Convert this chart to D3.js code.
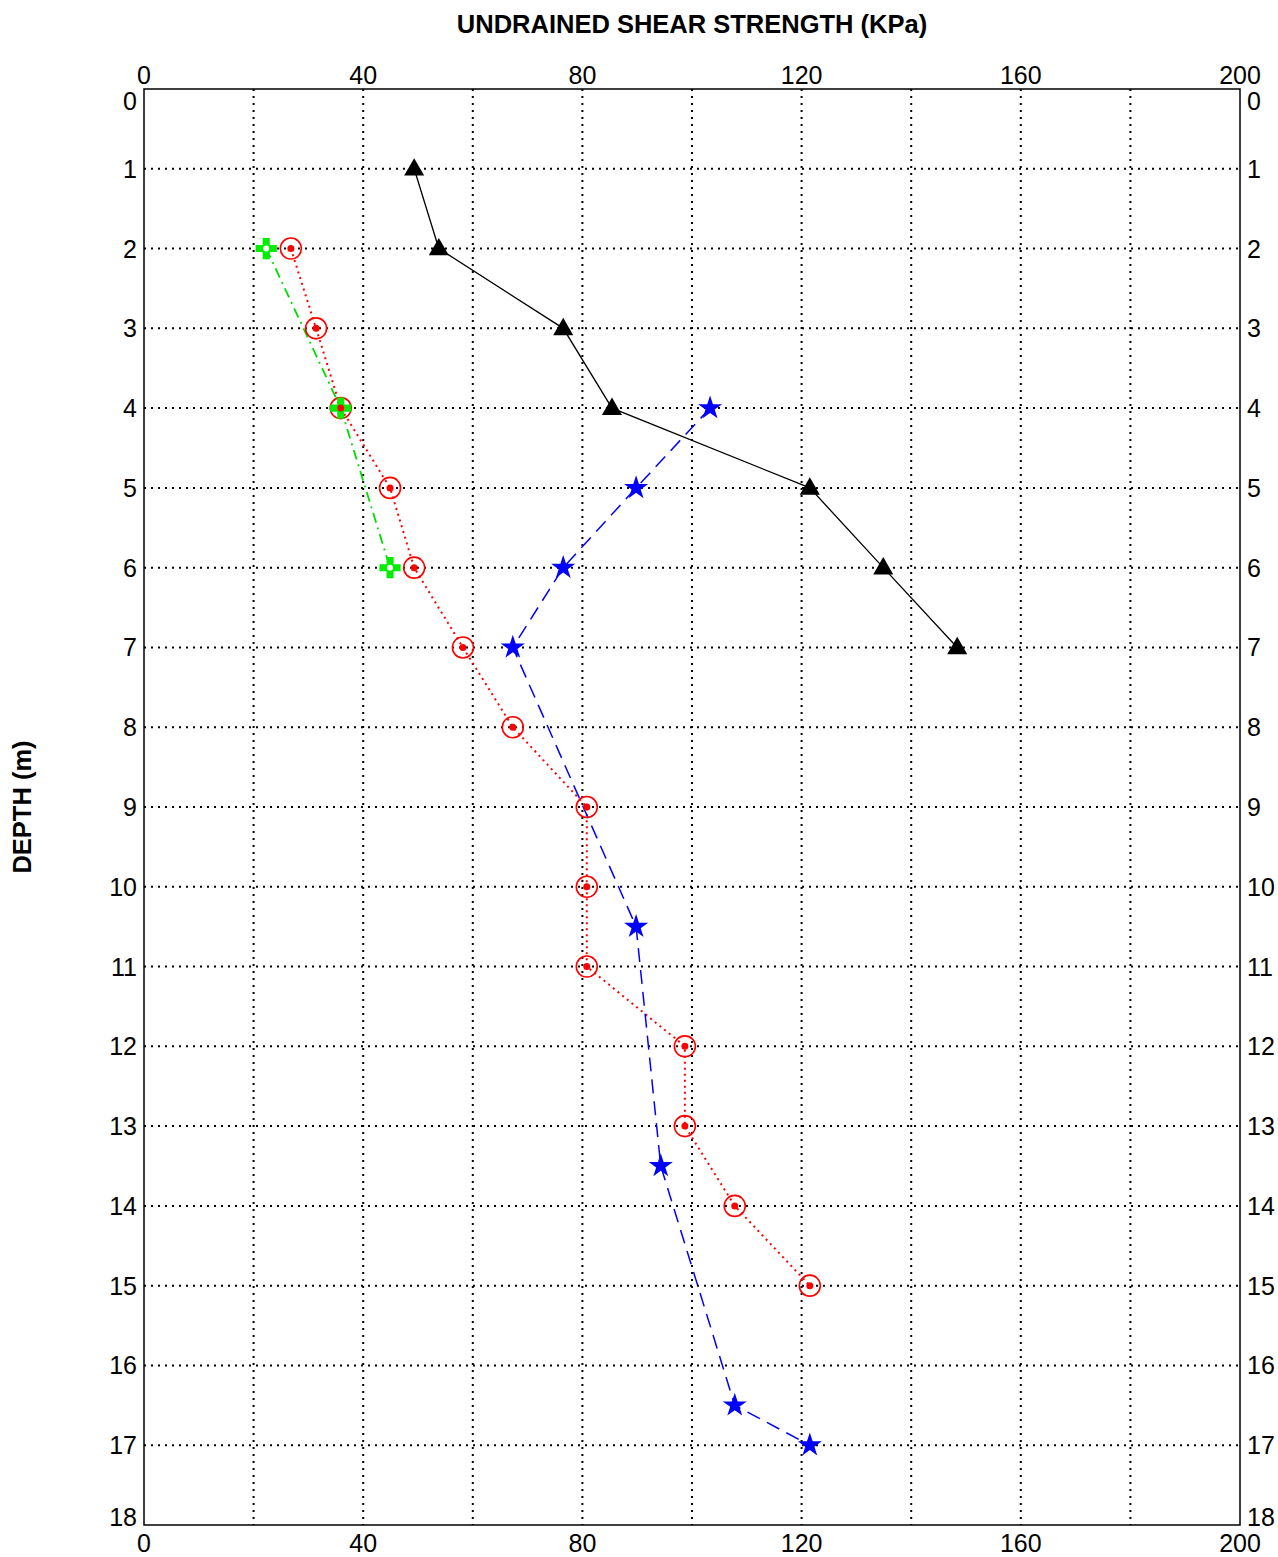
<!DOCTYPE html>
<html lang="en">
<head>
  <meta charset="UTF-8" />
  <title>Undrained Shear Strength vs Depth</title>
  <script src="https://d3js.org/d3.v7.min.js"></script>
  <style>
    body { margin: 0; background: #fff; font-family: Arial, "Liberation Sans", sans-serif; }
    .tick-label { font-size: 25px; fill: #000; }
    .axis-title { font-size: 25.5px; font-weight: bold; fill: #000; }
  </style>
</head>
<body>
  <div id="chart"></div>
  <script>
    // data (strength in kPa, depth in m)
    const triDepth = [1, 2, 3, 4, 5, 6, 7];
    const triStrength = [49.3, 53.8, 76.5, 85.4, 121.5, 134.9, 148.4];

    const circDepth = [2, 3, 4, 5, 6, 7, 8, 9, 10, 11, 12, 13, 14, 15];
    const circStrength = [26.8, 31.4, 35.9, 44.9, 49.3, 58.2, 67.3, 80.8, 80.8, 80.8, 98.7, 98.7, 107.8, 121.5];

    const crossDepth = [2, 4, 6];
    const crossStrength = [22.3, 35.9, 44.9];

    const starDepth = [4, 5, 6, 7, 10.5, 13.5, 16.5, 17];
    const starStrength = [103.3, 89.8, 76.5, 67.3, 89.8, 94.3, 107.8, 121.5];

    const xTicks = [0, 40, 80, 120, 160, 200];
    const xGrid = [20, 40, 60, 80, 100, 120, 140, 160, 180];
    const yTicks = d3.range(0, 19);

    const width = 1278, height = 1557;
    const margin = {top: 89, right: 38, bottom: 32, left: 144};

    const svg = d3.select("#chart").append("svg")
      .attr("width", width)
      .attr("height", height);

    const x = d3.scaleLinear().domain([0, 200]).range([margin.left, width - margin.right]);
    const y = d3.scaleLinear().domain([0, 18]).range([margin.top, height - margin.bottom]);

    // grid
    svg.append("g").selectAll("line").data(xGrid).enter().append("line")
      .attr("x1", d => x(d)).attr("x2", d => x(d))
      .attr("y1", y(0)).attr("y2", y(18))
      .attr("stroke", "#000").attr("stroke-width", 2)
      .attr("stroke-dasharray", "2,5");
    svg.append("g").selectAll("line").data(yTicks.slice(1, 18)).enter().append("line")
      .attr("x1", x(0)).attr("x2", x(200))
      .attr("y1", d => y(d)).attr("y2", d => y(d))
      .attr("stroke", "#000").attr("stroke-width", 2)
      .attr("stroke-dasharray", "2,5");

    // frame
    svg.append("rect")
      .attr("x", x(0)).attr("y", y(0))
      .attr("width", x(200) - x(0)).attr("height", y(18) - y(0))
      .attr("fill", "none").attr("stroke", "#000").attr("stroke-width", 1.5);

    // depth labels are kept inside the frame at the two ends
    const yLabelBase = d => d === 0 ? y(d) + 21 : d === 18 ? y(d) + 1 : y(d) + 9;

    // tick labels
    svg.append("g").selectAll("text").data(xTicks).enter().append("text")
      .attr("class", "tick-label").attr("text-anchor", "middle")
      .attr("x", d => x(d)).attr("y", y(0) - 5).text(d => d);
    svg.append("g").selectAll("text").data(xTicks).enter().append("text")
      .attr("class", "tick-label").attr("text-anchor", "middle")
      .attr("x", d => x(d)).attr("y", y(18) + 27).text(d => d);
    svg.append("g").selectAll("text").data(yTicks).enter().append("text")
      .attr("class", "tick-label").attr("text-anchor", "end")
      .attr("x", x(0) - 7).attr("y", yLabelBase).text(d => d);
    svg.append("g").selectAll("text").data(yTicks).enter().append("text")
      .attr("class", "tick-label").attr("text-anchor", "start")
      .attr("x", x(200) + 7).attr("y", yLabelBase).text(d => d);

    // titles
    svg.append("text").attr("class", "axis-title").attr("text-anchor", "middle")
      .attr("x", (x(0) + x(200)) / 2).attr("y", 33)
      .text("UNDRAINED SHEAR STRENGTH (KPa)");
    svg.append("text").attr("class", "axis-title").attr("text-anchor", "middle")
      .attr("transform", `translate(31,${(y(0) + y(18)) / 2}) rotate(-90)`)
      .text("DEPTH (m)");

    const line = d3.line().x(d => x(d[0])).y(d => y(d[1]));
    const zip = (s, dep) => s.map((v, i) => [v, dep[i]]);

    const tri = zip(triStrength, triDepth);
    const circ = zip(circStrength, circDepth);
    const cross = zip(crossStrength, crossDepth);
    const star = zip(starStrength, starDepth);

    // lines
    svg.append("path").datum(tri).attr("d", line)
      .attr("fill", "none").attr("stroke", "#000").attr("stroke-width", 1.3);
    svg.append("path").datum(circ).attr("d", line)
      .attr("fill", "none").attr("stroke", "#ff0000").attr("stroke-width", 2)
      .attr("stroke-dasharray", "2,4");
    svg.append("path").datum(cross).attr("d", line)
      .attr("fill", "none").attr("stroke", "#00dd00").attr("stroke-width", 1.8)
      .attr("stroke-dasharray", "10,5,2,5");
    svg.append("path").datum(star).attr("d", line)
      .attr("fill", "none").attr("stroke", "#0000ff").attr("stroke-width", 1.5)
      .attr("stroke-dasharray", "14,8");

    // markers
    svg.append("g").selectAll("path").data(tri).enter().append("path")
      .attr("d", d3.symbol().type(d3.symbolTriangle).size(175))
      .attr("transform", d => `translate(${x(d[0])},${y(d[1]) + 1})`)
      .attr("fill", "#000");

    const cg = svg.append("g").selectAll("g").data(circ).enter().append("g")
      .attr("transform", d => `translate(${x(d[0])},${y(d[1])})`);
    cg.append("circle").attr("r", 10.5).attr("fill", "none").attr("stroke", "#ff0000").attr("stroke-width", 1.6);
    cg.append("circle").attr("r", 3.5).attr("fill", "#ff0000");

    const gg = svg.append("g").selectAll("g").data(cross).enter().append("g")
      .attr("transform", d => `translate(${x(d[0])},${y(d[1])})`);
    gg.append("path").attr("d", d3.symbol().type(d3.symbolCross).size(250)).attr("fill", "#00ee00");
    gg.append("circle").attr("r", 3).attr("fill", "#fff");
    // red centre dot drawn over the green marker at depth 4
    svg.append("g").selectAll("circle").data(circ.filter(d => d[1] === 4)).enter().append("circle")
      .attr("cx", d => x(d[0])).attr("cy", d => y(d[1])).attr("r", 3.5).attr("fill", "#ff0000");

    svg.append("g").selectAll("path").data(star).enter().append("path")
      .attr("d", d3.symbol().type(d3.symbolStar).size(180))
      .attr("transform", d => `translate(${x(d[0])},${y(d[1])})`)
      .attr("fill", "#0000ff");
  </script>
</body>
</html>
